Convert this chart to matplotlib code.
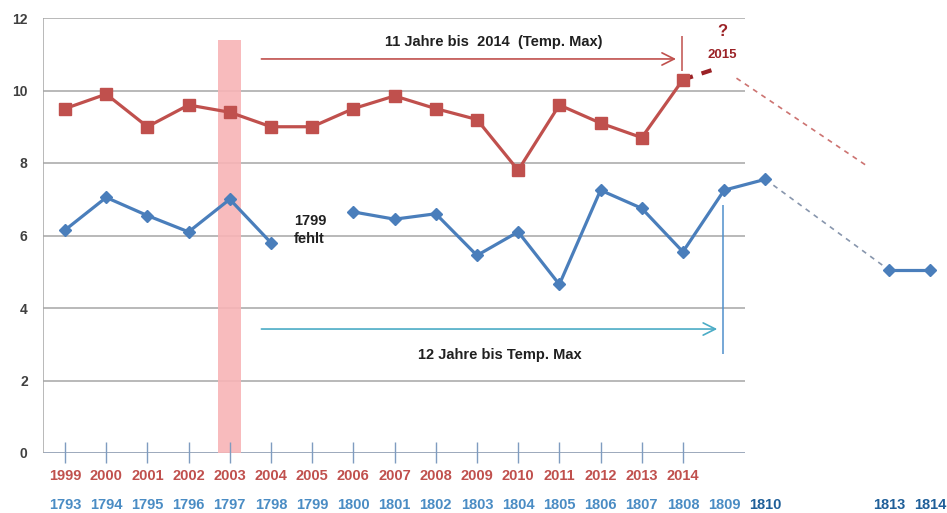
import numpy as np
import matplotlib
matplotlib.use("Agg")
import matplotlib.pyplot as plt

plt.rcParams['font.family'] = ['Liberation Sans Narrow', 'Liberation Sans', 'DejaVu Sans']

# red series: 1999-2014
red_years = ["1999", "2000", "2001", "2002", "2003", "2004", "2005", "2006",
             "2007", "2008", "2009", "2010", "2011", "2012", "2013", "2014"]
red_vals = [9.5, 9.9, 9.0, 9.6, 9.4, 9.0, 9.0, 9.5, 9.85, 9.5, 9.2, 7.8, 9.6, 9.1, 8.7, 10.3]

# blue series: 1793-1810 (1799 missing), then 1813-1814
blue_years = ["1793", "1794", "1795", "1796", "1797", "1798", "1799", "1800", "1801",
              "1802", "1803", "1804", "1805", "1806", "1807", "1808", "1809", "1810",
              "", "", "1813", "1814"]
blue_vals = [6.15, 7.05, 6.55, 6.1, 7.0, 5.8, np.nan, 6.65, 6.45, 6.6, 5.45, 6.1,
             4.65, 7.25, 6.75, 5.55, 7.25, 7.55, np.nan, np.nan, 5.05, 5.05]

red_c = "#c0504d"
dark_red = "#9b2226"
blue_c = "#4a7ebb"
grid_c = "#a6a6a6"

fig = plt.figure(figsize=(9.47, 5.13), dpi=100)
ax = fig.add_axes([43/947, 60/513, 904/947, 435/513])
ax.set_xlim(-0.534, 21.41)
ax.set_ylim(0, 12)
for s in ax.spines.values():
    s.set_visible(False)
ax.set_xticks([])
ax.set_yticks(range(0, 13, 2))
ax.set_yticklabels([str(v) for v in range(0, 13, 2)], fontsize=10, color="#404040",
                   fontweight="bold", family=["Liberation Sans", "DejaVu Sans"])
ax.tick_params(axis="y", length=0, pad=11)

# gridlines and axes
ax.hlines(range(2, 13, 2), -0.6, 16.5, color=grid_c, lw=1.1, zorder=1)
ax.hlines(0, -0.6, 16.5, color="#8c9bb0", lw=1.2, zorder=1)
ax.vlines(-0.534, 0, 12, color=grid_c, lw=1.1, zorder=1)
ax.vlines(np.arange(16), -0.28, 0.3, color="#7f9cc0", lw=1.0, clip_on=False, zorder=2)

# pink band at 2003
ax.fill_between([3.72, 4.28], 0, 11.4, color="#f8b4b6", alpha=0.9, lw=0, zorder=1.5)

x_red = np.arange(len(red_vals))
x_blue = np.arange(len(blue_vals))
bv = np.array(blue_vals)

ax.plot(x_red, red_vals, color=red_c, lw=2.3, marker="s", ms=9, zorder=4)
ax.plot(x_blue[:18], bv[:18], color=blue_c, lw=2.3, marker="D", ms=6, zorder=4)
ax.plot(x_blue[20:], bv[20:], color=blue_c, lw=2.3, marker="D", ms=6, zorder=4)

# dashed extensions
ax.plot([15, 15.8], [red_vals[-1], 10.6], color=dark_red, lw=3, dashes=(2.5, 2.2), zorder=3)
ax.plot([16.3, 19.44], [10.34, 7.94], color=red_c, lw=1.2, dashes=(3, 3), alpha=0.8, zorder=3)
ax.plot([17, 20], [bv[17], bv[20]], color="#8896ad", lw=1.2, dashes=(3, 3), zorder=3)

# annotations
ax.annotate("", xy=(14.9, 10.87), xytext=(4.7, 10.87),
            arrowprops=dict(arrowstyle="->", color=red_c, lw=1.2, mutation_scale=22))
ax.vlines(14.97, 10.55, 11.5, color=red_c, lw=1.1)
ax.text(10.4, 11.34, "11 Jahre bis  2014  (Temp. Max)", ha="center", va="center",
        fontsize=10.5, fontweight="bold", color="#202020")
ax.text(15.95, 11.62, "?", ha="center", va="center", fontsize=12, fontweight="bold", color=dark_red)
ax.text(15.95, 10.99, "2015", ha="center", va="center", fontsize=9.5, fontweight="bold", color=dark_red)

ax.annotate("", xy=(15.9, 3.42), xytext=(4.7, 3.42),
            arrowprops=dict(arrowstyle="->", color="#4bacc6", lw=1.2, mutation_scale=22))
ax.vlines(15.97, 2.73, 6.84, color="#4f8fcc", lw=1.1)
ax.text(10.55, 2.7, "12 Jahre bis Temp. Max", ha="center", va="center",
        fontsize=10.5, fontweight="bold", color="#202020")
ax.text(5.55, 6.15, "1799\nfehlt", ha="left", va="center", fontsize=10.5,
        fontweight="bold", color="#202020", linespacing=1.3)

# x labels: two rows
for i, lab in enumerate(red_years):
    ax.text(i, -0.64, lab, ha="center", va="center", fontsize=10.5, color=red_c,
            fontweight="bold", clip_on=False)
for i, lab in enumerate(blue_years):
    if lab == "":
        continue
    strong = i >= 17
    ax.text(i, -1.44, lab, ha="center", va="center", fontsize=10.5,
            color="#1f5f99" if strong else "#4a8cc4", fontweight="bold", clip_on=False)

fig.savefig("out.png", dpi=100)
